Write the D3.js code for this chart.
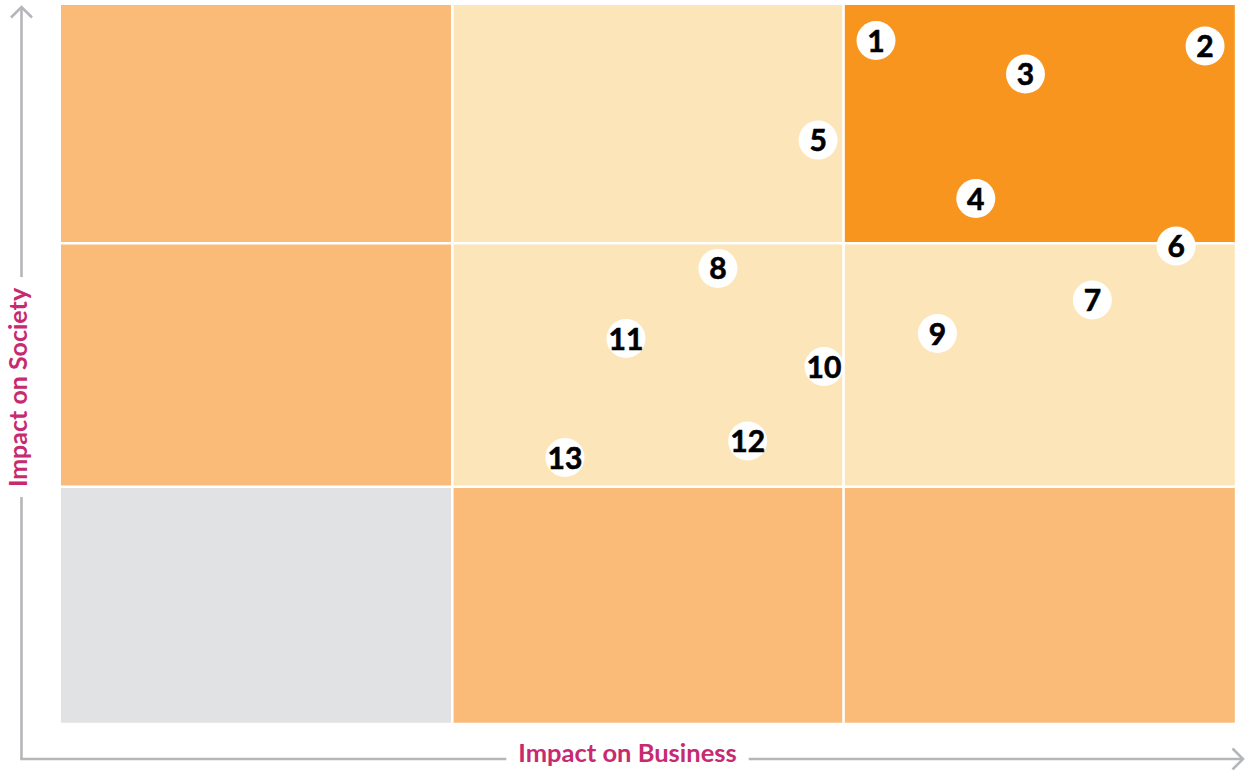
<!DOCTYPE html>
<html>
<head>
<meta charset="utf-8">
<script src="https://cdn.jsdelivr.net/npm/d3@7"></script>
<style>
  html, body { margin: 0; padding: 0; background: #ffffff; }
  svg { display: block; }
</style>
</head>
<body>
<svg id="chart" width="1245" height="770"></svg>
<script>
// ---- data ----
const gridLevels = [        // rows from top (high society) to bottom, columns low->high business
  ["medium", "low", "high"],
  ["medium", "low", "low"],
  ["none", "medium", "medium"]
];
const pointIds = [1, 2, 3, 4, 5, 6, 7, 8, 9, 10, 11, 12, 13];
const businessValues = [2.083, 2.924, 2.465, 2.338, 1.935, 2.850, 2.636, 1.679, 2.240, 1.950, 1.444, 1.755, 1.288];
const societyValues  = [2.851, 2.828, 2.710, 2.188, 2.433, 1.989, 1.767, 1.897, 1.630, 1.494, 1.609, 1.188, 1.120];
const xAxisLabel = "Impact on Business";
const yAxisLabel = "Impact on Society";

// ---- styles ----
const levelColor = { high: "#F7951F", medium: "#FBBB78", low: "#FDE5BA", none: "#E1E2E4" };
const axisColor = "#B4B6B9";
const labelColor = "#C72A6F";

const svg = d3.select("#chart");
const x = d3.scaleLinear().domain([0, 3]).range([61, 1234.8]);
const y = d3.scaleLinear().domain([0, 1, 2, 3]).range([722.7, 486.8, 243.3, 5]);

// cells
const cells = [];
gridLevels.forEach((row, r) => row.forEach((lvl, c) => cells.push({ c, r: 2 - r, lvl })));
svg.append("g").selectAll("rect").data(cells).join("rect")
  .attr("x", d => x(d.c))
  .attr("y", d => y(d.r + 1))
  .attr("width", d => x(d.c + 1) - x(d.c))
  .attr("height", d => y(d.r) - y(d.r + 1))
  .attr("fill", d => levelColor[d.lvl]);

// white separators
const seps = svg.append("g").attr("stroke", "#fff").attr("stroke-width", 2.6);
[1, 2].forEach(v => {
  seps.append("line").attr("x1", x(v)).attr("x2", x(v)).attr("y1", y(3)).attr("y2", y(0));
  seps.append("line").attr("y1", y(v)).attr("y2", y(v)).attr("x1", x(0)).attr("x2", x(3));
});

// axes
const ax = svg.append("g").attr("stroke", axisColor).attr("stroke-width", 2.6).attr("fill", "none")
  .attr("stroke-linecap", "butt").attr("stroke-linejoin", "miter");
ax.append("path").attr("d", "M21.5,759 L21.5,7");
ax.append("path").attr("d", "M11,17.5 L21.5,7 L32,17.5");
ax.append("path").attr("d", "M20.2,759 L1243,759");
ax.append("path").attr("d", "M1232.5,748.5 L1243,759 L1232.5,769.5");

// x label with white background
const xl = svg.append("g");
const xt = xl.append("text")
  .attr("x", 627.5)
  .attr("y", 762)
  .attr("text-anchor", "middle")
  .attr("font-family", "Lato, sans-serif")
  .attr("font-weight", 700)
  .attr("font-size", 25.5)
  .attr("fill", labelColor)
  .text(xAxisLabel);
const xb = xt.node().getBBox();
xl.insert("rect", "text").attr("x", xb.x - 12).attr("y", 745).attr("width", xb.width + 24).attr("height", 25).attr("fill", "#fff");

// y label
const yl = svg.append("g").attr("transform", "translate(26.5,387.5) rotate(-90)");
const yt = yl.append("text")
  .attr("x", 0).attr("y", 0)
  .attr("text-anchor", "middle")
  .attr("font-family", "Lato, sans-serif")
  .attr("font-weight", 700)
  .attr("font-size", 25)
  .attr("fill", labelColor)
  .text(yAxisLabel);
const yb = yt.node().getBBox();
yl.insert("rect", "text").attr("x", yb.x - 10).attr("y", -10).attr("width", yb.width + 20).attr("height", 20).attr("fill", "#fff");

// points
const pts = pointIds.map((id, i) => ({ id, bx: businessValues[i], sy: societyValues[i] }));
const pg = svg.append("g").selectAll("g").data(pts).join("g")
  .attr("transform", d => `translate(${x(d.bx)},${y(d.sy)})`);
pg.append("circle").attr("r", 19.5).attr("fill", "#fff");
pg.append("text")
  .attr("text-anchor", "middle")
  .attr("dy", "0.37em")
  .attr("font-family", "Lato, sans-serif")
  .attr("font-weight", 700)
  .attr("font-size", 30)
  .attr("fill", "#000")
  .attr("stroke", "#000")
  .attr("stroke-width", 0.6)
  .text(d => d.id);
</script>
</body>
</html>
